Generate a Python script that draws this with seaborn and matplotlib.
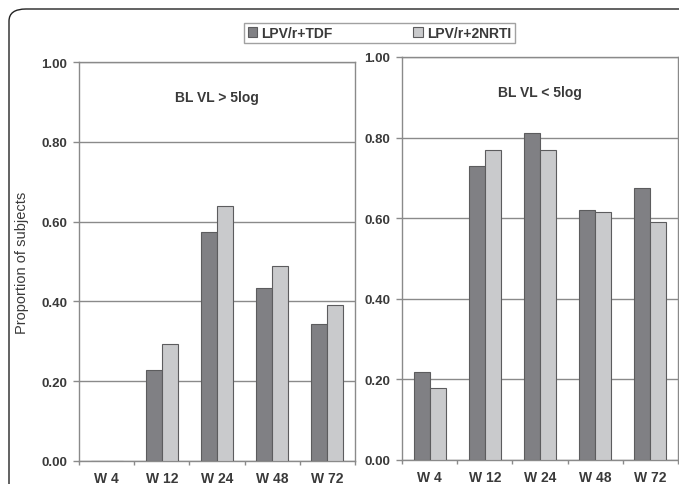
import pandas as pd
import numpy as np
import matplotlib
matplotlib.use('Agg')
import matplotlib.pyplot as plt
import seaborn as sns
from matplotlib.patches import Patch, FancyBboxPatch
from matplotlib.ticker import FixedLocator

sns.set_theme(style="white")
plt.rcParams['font.family'] = ['Liberation Sans', 'DejaVu Sans']
plt.rcParams['font.size'] = 9.5

DARK = '#808084'
LIGHT = '#c9cacc'
EDGE = '#5c5c5e'
GRID = '#8a8a8a'
TEXT = '#3a3a3a'

# ── data ────────────────────────────────────────────────
weeks = ['W 4', 'W 12', 'W 24', 'W 48', 'W 72']
arms = ['LPV/r+TDF', 'LPV/r+2NRTI']
high_tdf = [0.0, 0.229, 0.575, 0.433, 0.344]
high_nrti = [0.0, 0.293, 0.638, 0.489, 0.392]
low_tdf = [0.219, 0.729, 0.811, 0.621, 0.676]
low_nrti = [0.179, 0.769, 0.769, 0.615, 0.590]
panel_titles = ['BL VL > 5log', 'BL VL < 5log']


def long_df(tdf, nrti):
    return pd.DataFrame({
        'week': weeks * 2,
        'arm': [arms[0]] * len(weeks) + [arms[1]] * len(weeks),
        'prop': tdf + nrti,
    })


panels = [long_df(high_tdf, high_nrti), long_df(low_tdf, low_nrti)]

fig = plt.figure(figsize=(6.79, 4.85), dpi=100)
fig.patch.set_facecolor('white')

# outer rounded frame (runs off the right / bottom edge)
frame = FancyBboxPatch((9 / 679, -0.2), 1.2, 1 - 10 / 485 + 0.2,
                       boxstyle="round,pad=0,rounding_size=0.025",
                       transform=fig.transFigure, fill=False,
                       edgecolor='#222222', linewidth=1.0, clip_on=False)
fig.patches.append(frame)

positions = [[79 / 679, 1 - 462 / 485, 276 / 679, 399 / 485],
             [402 / 679, 1 - 461 / 485, 276 / 679, 403 / 485]]

for i, (df, pos, title) in enumerate(zip(panels, positions, panel_titles)):
    ax = fig.add_axes(pos)
    sns.barplot(data=df, x='week', y='prop', hue='arm', hue_order=arms,
                palette=[DARK, LIGHT], width=0.58, edgecolor=EDGE,
                linewidth=0.8, saturation=1, legend=False, ax=ax, zorder=3)
    ax.set_ylim(0, 1.0)
    ax.set_xlim(-0.5, len(weeks) - 0.5)
    ax.set_yticks(np.arange(0, 1.01, 0.2))
    ax.set_yticklabels([f'{v:.2f}' for v in np.arange(0, 1.01, 0.2)],
                       fontweight='bold', color=TEXT, fontsize=9.5)
    ax.set_xticks(range(len(weeks)))
    ax.set_xticklabels(weeks, fontweight='bold', color=TEXT, fontsize=10)
    ax.xaxis.set_minor_locator(FixedLocator(np.arange(-0.5, len(weeks), 1.0)))
    ax.tick_params(axis='x', which='major', length=0, pad=7)
    ax.tick_params(axis='x', which='minor', length=3, color=GRID, width=1,
                   direction='out', bottom=True)
    ax.tick_params(axis='y', length=4.5, color=GRID, width=1, direction='out',
                   left=True, pad=4)
    ax.yaxis.grid(True, color=GRID, linewidth=1.0, zorder=0)
    ax.set_axisbelow(True)
    for s in ax.spines.values():
        s.set_color(GRID)
        s.set_linewidth(1.0)
    ax.set_xlabel('')
    if i == 0:
        ax.set_ylabel('Proportion of subjects', color=TEXT, fontsize=10.5)
        ax.yaxis.set_label_coords(-0.181, 0.5)
    else:
        ax.set_ylabel('')
    ax.text(0.5, 0.913, title, transform=ax.transAxes, ha='center',
            va='center', fontweight='bold', color=TEXT, fontsize=10)

handles = [Patch(facecolor=DARK, edgecolor=EDGE, linewidth=0.8),
           Patch(facecolor=LIGHT, edgecolor=EDGE, linewidth=0.8)]
leg = fig.legend(handles, arms, loc='center', bbox_to_anchor=(379.5 / 679, 1 - 34 / 485),
                 ncol=2, frameon=True, fancybox=False, handlelength=0.7,
                 handleheight=0.7, handletextpad=0.3, columnspacing=5.8,
                 borderpad=0.25, borderaxespad=0,
                 prop={'weight': 'bold', 'size': 10})
leg.get_frame().set_edgecolor(GRID)
leg.get_frame().set_linewidth(1.0)
for t in leg.get_texts():
    t.set_color(TEXT)

plt.savefig('out.png', dpi=100)
